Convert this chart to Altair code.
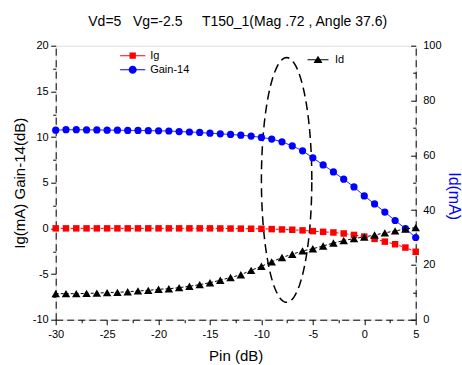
import altair as alt
import pandas as pd
import numpy as np

FONT = "Liberation Sans"

# ---------------- data ----------------
pin = [-30, -29, -28, -27, -26, -25, -24, -23, -22, -21, -20, -19, -18, -17, -16, -15, -14, -13,
       -12, -11, -10, -9, -8, -7, -6, -5, -4, -3, -2, -1, 0, 1, 2, 3, 4, 5]

ig = [0.0, 0.0, 0.0, 0.0, 0.0, 0.0, 0.0, 0.0, 0.0, 0.0, 0.0, 0.0, 0.0, 0.0, 0.0, 0.0, -0.01, -0.02,
      -0.03, -0.04, -0.05, -0.08, -0.12, -0.15, -0.22, -0.30, -0.38, -0.45, -0.56, -0.72, -0.90, -1.15,
      -1.45, -1.74, -2.10, -2.56]

gain = [10.75, 10.80, 10.80, 10.78, 10.78, 10.75, 10.75, 10.72, 10.72, 10.70, 10.68, 10.66, 10.60,
        10.55, 10.50, 10.42, 10.35, 10.28, 10.20, 10.10, 9.96, 9.78, 9.47, 9.03, 8.49, 7.72, 6.95,
        6.18, 5.38, 4.54, 3.55, 2.68, 1.78, 0.86, -0.02, -1.0]

id_ma = [9.5, 9.5, 9.5, 9.6, 9.7, 9.9, 10.0, 10.2, 10.5, 10.7, 11.1, 11.3, 11.7, 12.2, 12.8, 13.5,
         14.4, 15.4, 16.4, 18.0, 19.5, 21.1, 22.7, 23.9, 25.1, 25.9, 26.9, 28.0, 28.9, 29.6, 30.2,
         30.9, 31.7, 32.4, 33.1, 33.6]

left_series = ["Ig", "Gain-14"]
left_colors = ["#ff0000", "#0000ff"]

# dashed ellipse annotation (centre / radii in data units)
ell_center_pin = -7.55
ell_center_val = 5.3
ell_radius_pin = 2.45
ell_radius_val = 13.4

x_ticks = [-30, -27.5, -25, -22.5, -20, -17.5, -15, -12.5, -10, -7.5, -5, -2.5, 0, 2.5, 5]
yl_ticks = [-10, -7.5, -5, -2.5, 0, 2.5, 5, 7.5, 10, 12.5, 15, 17.5, 20]
yr_ticks = [0, 10, 20, 30, 40, 50, 60, 70, 80, 90, 100]

title_text = "Vd=5\u00a0\u00a0\u00a0Vg=-2.5\u00a0\u00a0\u00a0\u00a0\u00a0T150_1(Mag .72 , Angle 37.6)"

# ---------------- tables ----------------
left_df = pd.DataFrame({
    "Pin": pin + pin,
    "value": ig + gain,
    "series": ["Ig"] * len(pin) + ["Gain-14"] * len(pin),
})
id_df = pd.DataFrame({"Pin": pin, "Id": id_ma, "series": ["Id"] * len(pin)})

tt = np.linspace(0, 2 * np.pi, 121)
ell_df = pd.DataFrame({
    "Pin": ell_center_pin + ell_radius_pin * np.cos(tt),
    "value": ell_center_val + ell_radius_val * np.sin(tt),
    "k": np.arange(len(tt)),
})

# ---------------- axes ----------------
common_axis = dict(
    grid=False, domainColor="black", tickColor="black", labelColor="black",
    labelFont=FONT, labelFontSize=11, titleFont=FONT, titleFontWeight="normal",
    labelOverlap=False, labelFlush=False, tickWidth=1, domainWidth=1,
)

x_enc = alt.X(
    "Pin:Q",
    scale=alt.Scale(domain=[-30, 5], nice=False, zero=False),
    axis=alt.Axis(
        values=x_ticks,
        labelExpr="datum.value % 5 === 0 ? '' + datum.value : ''",
        tickSize=alt.ExprRef("datum.value % 5 === 0 ? 5 : 3"),
        labelPadding=4, domainDash=[7, 4],
        title="Pin (dB)", titleFontSize=15, titleColor="black",
        titleY=36, titleBaseline="middle",
        **common_axis,
    ),
)

yl_enc = alt.Y(
    "value:Q",
    scale=alt.Scale(domain=[-10, 20], nice=False, zero=False),
    axis=alt.Axis(
        orient="left", values=yl_ticks,
        labelExpr="datum.value % 5 === 0 ? '' + datum.value : ''",
        tickSize=alt.ExprRef("datum.value % 5 === 0 ? 5 : 3"),
        labelPadding=2.5, domainDash=[7, 4.5],
        title="Ig(mA) Gain-14(dB)", titleFontSize=15, titleColor="black",
        titleX=-36, titleY=137, titleBaseline="middle",
        **common_axis,
    ),
)

yr_enc = alt.Y(
    "Id:Q",
    scale=alt.Scale(domain=[0, 100], nice=False, zero=False),
    axis=alt.Axis(
        orient="right", values=yr_ticks,
        labelExpr="datum.value % 20 === 0 ? '' + datum.value : ''",
        tickSize=alt.ExprRef("datum.value % 20 === 0 ? -5 : -3"),
        labelPadding=12, domainDash=[7, 4.5],
        title="Id(mA)", titleFontSize=16, titleColor="#0000ff",
        titleX=38, titleY=150, titleBaseline="middle",
        **common_axis,
    ),
)

# legend symbol paths: short line through a marker
SYM_SQ = "M-4.2,-0.17H4.2V0.17H-4.2Z M-1.05,-1.05H1.05V1.05H-1.05Z"
SYM_CI = "M-4.2,-0.17H4.2V0.17H-4.2Z M-1.35,0A1.35,1.35 0 1,1 1.35,0A1.35,1.35 0 1,1 -1.35,0Z"
SYM_TR = "M-3.5,-0.17H3.5V0.17H-3.5Z M0,-1.3L1.5,1.1H-1.5Z"


def legend(x, y, off):
    return alt.Legend(
        title=None, orient="none", legendX=x, legendY=y, symbolSize=36,
        labelOffset=off, labelFont=FONT, labelFontSize=11, labelColor="black",
        symbolStrokeWidth=0, rowPadding=2, padding=0, symbolOpacity=1,
    )


# ---------------- left layers ----------------
ellipse = alt.Chart(ell_df).mark_line(color="black", strokeDash=[9, 5], strokeWidth=1.5).encode(
    x=x_enc, y=yl_enc, order="k:Q"
)

left_lines = alt.Chart(left_df).mark_line(strokeWidth=1).encode(
    x=x_enc, y=yl_enc,
    color=alt.Color("series:N", scale=alt.Scale(domain=left_series, range=left_colors), legend=None),
    strokeDash=alt.StrokeDash("series:N", scale=alt.Scale(domain=left_series, range=[[3, 2], [1, 0]]),
                              legend=None),
)

left_points = alt.Chart(left_df).mark_point(filled=True, opacity=1).encode(
    x=x_enc, y=yl_enc,
    color=alt.Color("series:N", scale=alt.Scale(domain=left_series, range=left_colors), legend=None),
    shape=alt.Shape("series:N", scale=alt.Scale(domain=left_series, range=["square", "circle"]), legend=None),
    size=alt.Size("series:N", scale=alt.Scale(domain=left_series, range=[42, 52]), legend=None),
)

left_leg = alt.Chart(left_df).transform_filter("false").mark_point(filled=True, opacity=1, size=36).encode(
    color=alt.Color("series:N", scale=alt.Scale(domain=left_series, range=left_colors),
                    legend=legend(71.5, 4.5, 12)),
    shape=alt.Shape("series:N", scale=alt.Scale(domain=left_series, range=[SYM_SQ, SYM_CI]),
                    legend=legend(71.5, 4.5, 12)),
)

left = alt.layer(ellipse, left_lines, left_points, left_leg).resolve_scale(
    color="independent", shape="independent", size="independent", strokeDash="independent"
)

# ---------------- right layers ----------------
id_line = alt.Chart(id_df).mark_line(color="black", strokeWidth=1, strokeDash=[3, 2]).encode(
    x=x_enc, y=yr_enc
)
id_points = alt.Chart(id_df).mark_point(filled=True, opacity=1, shape="triangle-up", size=72,
                                         color="black").encode(x=x_enc, y=yr_enc)
id_leg = alt.Chart(id_df).transform_filter("false").mark_point(filled=True, opacity=1, size=36).encode(
    color=alt.Color("series:N", scale=alt.Scale(domain=["Id"], range=["black"]),
                    legend=legend(256.8, 8.5, 11.5)),
    shape=alt.Shape("series:N", scale=alt.Scale(domain=["Id"], range=[SYM_TR]),
                    legend=legend(256.8, 8.5, 11.5)),
)

right = alt.layer(id_line, id_points, id_leg).resolve_scale(color="independent", shape="independent")

chart = alt.layer(left, right).resolve_scale(
    y="independent", color="independent", shape="independent", size="independent",
    strokeDash="independent"
).properties(
    width=360, height=274,
    autosize=alt.AutoSizeParams(type="none"),
    padding={"left": 55.7, "top": 45.7, "right": 46.3, "bottom": 45.3},
    title=alt.TitleParams(text=title_text, font=FONT, fontSize=14, fontWeight="normal",
                          color="black", anchor="middle", offset=0, dx=2, baseline="alphabetic"),
).configure_view(stroke=None).configure(font=FONT, background="white")

chart.save("out.html", embed_options={"renderer": "svg", "actions": False})
